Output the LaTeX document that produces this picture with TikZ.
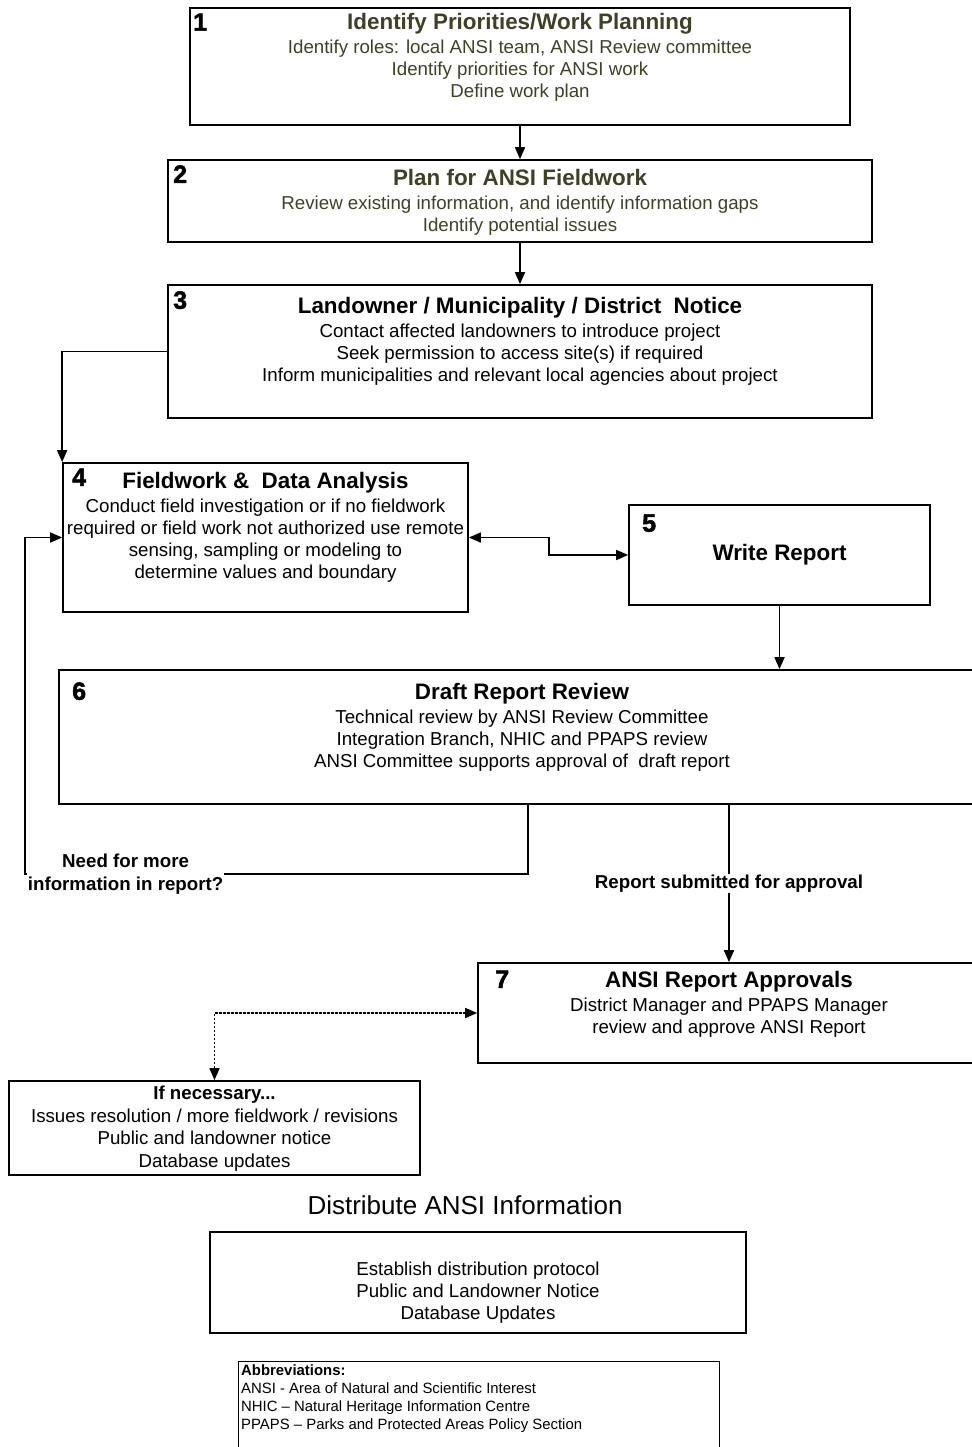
\documentclass[tikz,border=0pt]{standalone}
\usepackage{fontspec}
\setmainfont{Liberation Sans}
\usepackage{xcolor}
\usetikzlibrary{positioning}
\usetikzlibrary{arrows.meta}
\usetikzlibrary{calc}
\definecolor{olivetext}{RGB}{64,64,40}
\newfontfamily\numfont[FakeBold=2]{Liberation Sans Bold}
\newcommand{\ttl}[1]{{\bfseries\fontsize{22.4}{22}\selectfont #1}\\[2pt]}

\begin{document}
\begin{tikzpicture}[x=1pt, y=-1pt,
    box/.style={draw, line width=1.7pt, inner sep=0pt},
    txt/.style={align=center, inner sep=0pt, font=\fontsize{18.7}{22}\selectfont},
    num/.style={inner sep=0pt, font=\numfont\fontsize{25}{25}\selectfont},
    lbl/.style={align=center, inner sep=1pt, fill=white, font=\bfseries\fontsize{18.7}{23}\selectfont},
    flow/.style={line width=1.7pt, -{Triangle[length=12pt,width=10pt]}},
    flowboth/.style={line width=1.7pt, {Triangle[length=12pt,width=10pt]}-{Triangle[length=12pt,width=10pt]}}
]
    \useasboundingbox[fill=white] (0,0) rectangle (971,1447);

    % Identify Priorities
    \node[box, minimum width=660pt, minimum height=117pt] (IP) at (520,66.5) {};
    \node[txt, text=olivetext, below=6.2pt of IP.north] (IPt) {\ttl{Identify Priorities/Work Planning}Identify roles: local ANSI team, ANSI Review committee\\Identify priorities for ANSI work\\Define work plan};
    \node[num] (IPn) at ($(IP.north west)+(11,15)$) {1};

    % Plan Fieldwork
    \node[box, minimum width=704pt, minimum height=82pt, below=33.3pt of IP] (PF) {};
    \node[txt, text=olivetext, below=10.2pt of PF.north] (PFt) {\ttl{Plan for ANSI Fieldwork}Review existing information, and identify information gaps\\Identify potential issues};
    \node[num] (PFn) at ($(PF.north west)+(13,15)$) {2};

    % Landowner Notice
    \node[box, minimum width=704pt, minimum height=133pt, below=41.3pt of PF] (LN) {};
    \node[txt, below=13.2pt of LN.north] (LNt) {\ttl{Landowner / Municipality / District~ Notice}Contact affected landowners to introduce project\\Seek permission to access site(s) if required\\Inform municipalities and relevant local agencies about project};
    \node[num] (LNn) at ($(LN.north west)+(13,16)$) {3};

    % Fieldwork and Data Analysis
    \node[box, minimum width=405pt, minimum height=149pt] (FD) at (265.5,537.5) {};
    \node[txt, below=10pt of FD.north] (FDt) {\ttl{Fieldwork \&~ Data Analysis}Conduct field investigation or if no fieldwork\\required or field work not authorized use remote\\sensing, sampling or modeling to\\determine values and boundary};
    \node[num] (FDn) at ($(FD.north west)+(17,15)$) {4};

    % Write Report
    \node[box, minimum width=301pt, minimum height=100pt, font=\bfseries\fontsize{22.4}{22}\selectfont] (WR) at (779.5,555) {Write Report};
    \node[num] (WRn) at ($(WR.north west)+(21,19)$) {5};

    % Draft Report Review
    \node[box, minimum width=926pt, minimum height=134pt] (DR) at (522,737) {};
    \node[txt, below=14pt of DR.north] (DRt) {\ttl{Draft Report Review}Technical review by ANSI Review Committee\\Integration Branch, NHIC and PPAPS review\\ANSI Committee supports approval of~ draft report};
    \node[num] (DRn) at ($(DR.north west)+(21,22)$) {6};

    % Report Approvals
    \node[box, minimum width=507pt, minimum height=100pt] (RA) at (731.5,1013) {};
    \node[txt, below=9pt of RA.north, xshift=-2.5pt] (RAt) {\ttl{ANSI Report Approvals}District Manager and PPAPS Manager\\review and approve ANSI Report};
    \node[num] (RAn) at ($(RA.north west)+(25,17)$) {7};

    % If necessary
    \node[box, minimum width=411pt, minimum height=94pt] (IN) at (214.5,1128) {};
    \node[txt, below=5.5pt of IN.north, font=\fontsize{18.7}{22.6}\selectfont] (INt) {\textbf{If necessary...}\\Issues resolution / more fieldwork / revisions\\Public and landowner notice\\Database updates};

    % Distribute
    \node[inner sep=0pt, font=\fontsize{26}{28}\selectfont] (DIh) at (465,1205) {Distribute ANSI Information};
    \node[box, minimum width=536pt, minimum height=101pt] (DI) at (478,1282.5) {};
    \node[txt, yshift=-10.5pt] (DIt) at (DI.center) {Establish distribution protocol\\Public and Landowner Notice\\Database Updates};

    % Abbreviations
    \node[draw, line width=0.8pt, inner sep=0pt, minimum width=481pt, minimum height=100pt, anchor=north west] (AB) at (238,1361) {};
    \node[anchor=north west, align=left, inner sep=0pt, font=\fontsize{14.9}{18}\selectfont] (ABt) at ($(AB.north west)+(3,3)$) {\textbf{Abbreviations:}\\ANSI - Area of Natural and Scientific Interest\\NHIC -- Natural Heritage Information Centre\\PPAPS -- Parks and Protected Areas Policy Section};

    % Connectors
    \draw[flow] (IP) -- (PF);
    \draw[flow] (PF) -- (LN);
    \draw[flow] (LN.west) -| (FD.north west);
    \draw[flowboth] (FD.east) -- ++(80,0) |- (WR.west);
    \draw[flow] (WR.south) -- (WR.south |- DR.north);
    \draw[flow] ([xshift=6pt]DR.south) -- ++(0,69) -- node[lbl, pos=0.8] {Need for more\\information in report?} ++(-503,0) |- (FD.west);
    \draw[flow] ([xshift=207pt]DR.south) -- node[lbl] {Report submitted for approval} ([xshift=207pt]DR.south |- RA.north);
    \draw[flowboth, dash pattern=on 2.5pt off 1.5pt] (RA.west) -| (IN.north);
\end{tikzpicture}
\end{document}
